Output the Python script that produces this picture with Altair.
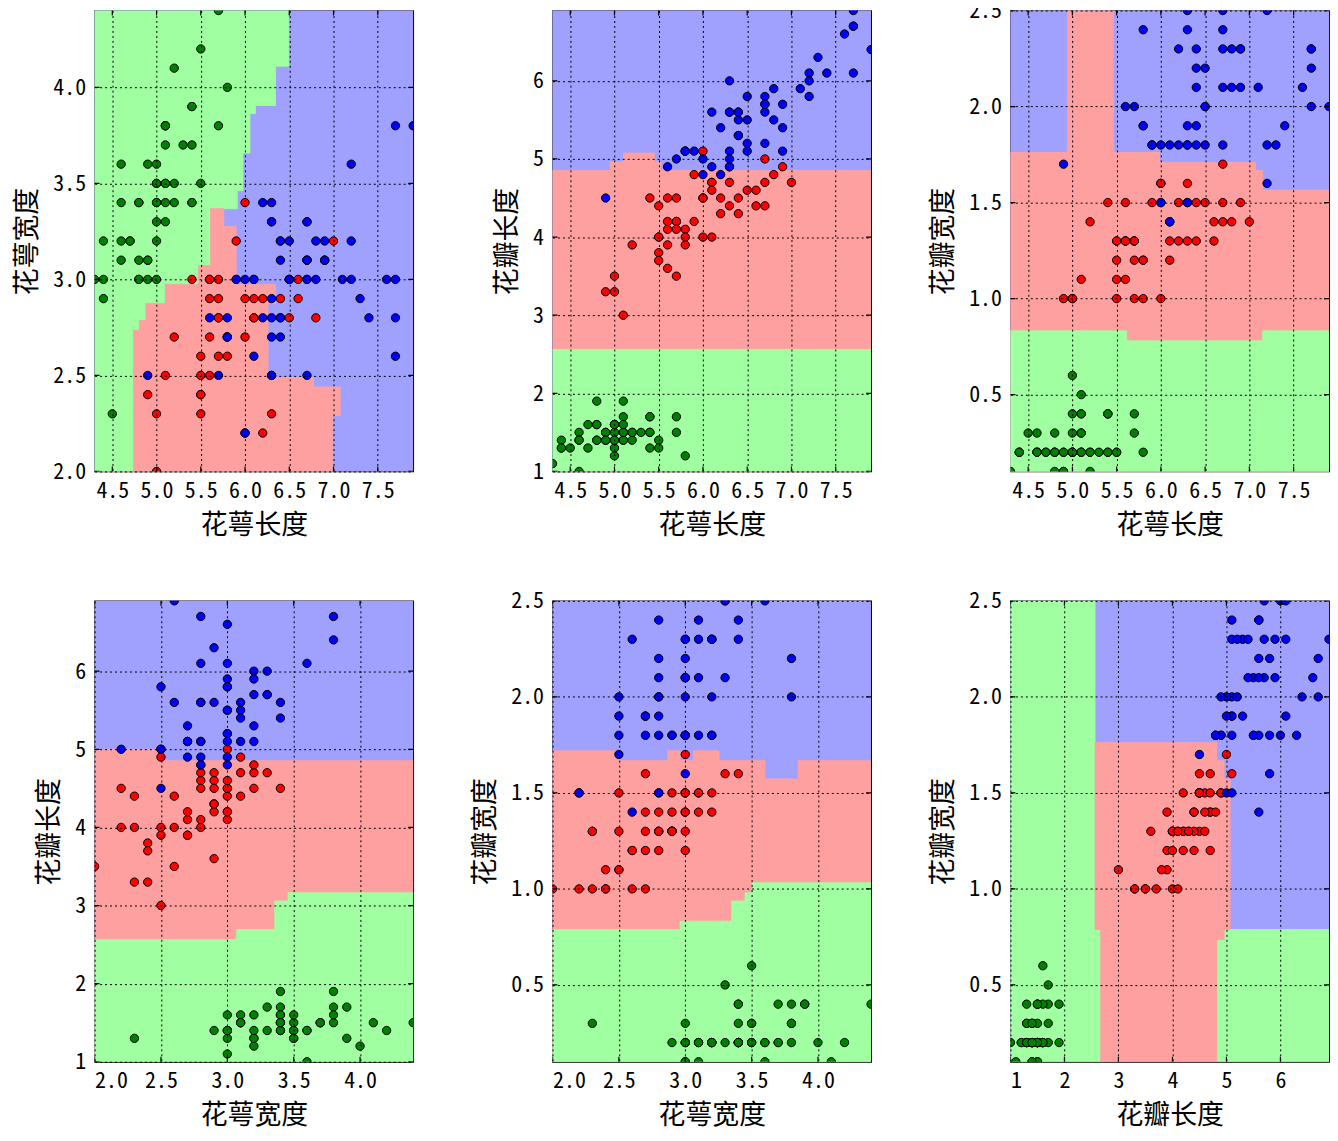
import altair as alt
import pandas as pd

# ---- iris measurements (sepal length, sepal width, petal length, petal width) ----
sepal_length = [
    5.1, 4.9, 4.7, 4.6, 5.0, 5.4, 4.6, 5.0, 4.4, 4.9, 5.4, 4.8, 4.8, 4.3, 5.8, 5.7, 5.4, 5.1, 5.7, 5.1,
    5.4, 5.1, 4.6, 5.1, 4.8, 5.0, 5.0, 5.2, 5.2, 4.7, 4.8, 5.4, 5.2, 5.5, 4.9, 5.0, 5.5, 4.9, 4.4, 5.1,
    5.0, 4.5, 4.4, 5.0, 5.1, 4.8, 5.1, 4.6, 5.3, 5.0,
    7.0, 6.4, 6.9, 5.5, 6.5, 5.7, 6.3, 4.9, 6.6, 5.2, 5.0, 5.9, 6.0, 6.1, 5.6, 6.7, 5.6, 5.8, 6.2, 5.6,
    5.9, 6.1, 6.3, 6.1, 6.4, 6.6, 6.8, 6.7, 6.0, 5.7, 5.5, 5.5, 5.8, 6.0, 5.4, 6.0, 6.7, 6.3, 5.6, 5.5,
    5.5, 6.1, 5.8, 5.0, 5.6, 5.7, 5.7, 6.2, 5.1, 5.7,
    6.3, 5.8, 7.1, 6.3, 6.5, 7.6, 4.9, 7.3, 6.7, 7.2, 6.5, 6.4, 6.8, 5.7, 5.8, 6.4, 6.5, 7.7, 7.7, 6.0,
    6.9, 5.6, 7.7, 6.3, 6.7, 7.2, 6.2, 6.1, 6.4, 7.2, 7.4, 7.9, 6.4, 6.3, 6.1, 7.7, 6.3, 6.4, 6.0, 6.9,
    6.7, 6.9, 5.8, 6.8, 6.7, 6.7, 6.3, 6.5, 6.2, 5.9,
]
sepal_width = [
    3.5, 3.0, 3.2, 3.1, 3.6, 3.9, 3.4, 3.4, 2.9, 3.1, 3.7, 3.4, 3.0, 3.0, 4.0, 4.4, 3.9, 3.5, 3.8, 3.8,
    3.4, 3.7, 3.6, 3.3, 3.4, 3.0, 3.4, 3.5, 3.4, 3.2, 3.1, 3.4, 4.1, 4.2, 3.1, 3.2, 3.5, 3.6, 3.0, 3.4,
    3.5, 2.3, 3.2, 3.5, 3.8, 3.0, 3.8, 3.2, 3.7, 3.3,
    3.2, 3.2, 3.1, 2.3, 2.8, 2.8, 3.3, 2.4, 2.9, 2.7, 2.0, 3.0, 2.2, 2.9, 2.9, 3.1, 3.0, 2.7, 2.2, 2.5,
    3.2, 2.8, 2.5, 2.8, 2.9, 3.0, 2.8, 3.0, 2.9, 2.6, 2.4, 2.4, 2.7, 2.7, 3.0, 3.4, 3.1, 2.3, 3.0, 2.5,
    2.6, 3.0, 2.6, 2.3, 2.7, 3.0, 2.9, 2.9, 2.5, 2.8,
    3.3, 2.7, 3.0, 2.9, 3.0, 3.0, 2.5, 2.9, 2.5, 3.6, 3.2, 2.7, 3.0, 2.5, 2.8, 3.2, 3.0, 3.8, 2.6, 2.2,
    3.2, 2.8, 2.8, 2.7, 3.3, 3.2, 2.8, 3.0, 2.8, 3.0, 2.8, 3.8, 2.8, 2.8, 2.6, 3.0, 3.4, 3.1, 3.0, 3.1,
    3.1, 3.1, 2.7, 3.2, 3.3, 3.0, 2.5, 3.0, 3.4, 3.0,
]
petal_length = [
    1.4, 1.4, 1.3, 1.5, 1.4, 1.7, 1.4, 1.5, 1.4, 1.5, 1.5, 1.6, 1.4, 1.1, 1.2, 1.5, 1.3, 1.4, 1.7, 1.5,
    1.7, 1.5, 1.0, 1.7, 1.9, 1.6, 1.6, 1.5, 1.4, 1.6, 1.6, 1.5, 1.5, 1.4, 1.5, 1.2, 1.3, 1.4, 1.3, 1.5,
    1.3, 1.3, 1.3, 1.6, 1.9, 1.4, 1.6, 1.4, 1.5, 1.4,
    4.7, 4.5, 4.9, 4.0, 4.6, 4.5, 4.7, 3.3, 4.6, 3.9, 3.5, 4.2, 4.0, 4.7, 3.6, 4.4, 4.5, 4.1, 4.5, 3.9,
    4.8, 4.0, 4.9, 4.7, 4.3, 4.4, 4.8, 5.0, 4.5, 3.5, 3.8, 3.7, 3.9, 5.1, 4.5, 4.5, 4.7, 4.4, 4.1, 4.0,
    4.4, 4.6, 4.0, 3.3, 4.2, 4.2, 4.2, 4.3, 3.0, 4.1,
    6.0, 5.1, 5.9, 5.6, 5.8, 6.6, 4.5, 6.3, 5.8, 6.1, 5.1, 5.3, 5.5, 5.0, 5.1, 5.3, 5.5, 6.7, 6.9, 5.0,
    5.7, 4.9, 6.7, 4.9, 5.7, 6.0, 4.8, 4.9, 5.6, 5.8, 6.1, 6.4, 5.6, 5.1, 5.6, 6.1, 5.6, 5.5, 4.8, 5.4,
    5.6, 5.1, 5.1, 5.9, 5.7, 5.2, 5.0, 5.2, 5.4, 5.1,
]
petal_width = [
    0.2, 0.2, 0.2, 0.2, 0.2, 0.4, 0.3, 0.2, 0.2, 0.1, 0.2, 0.2, 0.1, 0.1, 0.2, 0.4, 0.4, 0.3, 0.3, 0.3,
    0.2, 0.4, 0.2, 0.5, 0.2, 0.2, 0.4, 0.2, 0.2, 0.2, 0.2, 0.4, 0.1, 0.2, 0.2, 0.2, 0.2, 0.1, 0.2, 0.2,
    0.3, 0.3, 0.2, 0.6, 0.4, 0.3, 0.2, 0.2, 0.2, 0.2,
    1.4, 1.5, 1.5, 1.3, 1.5, 1.3, 1.6, 1.0, 1.3, 1.4, 1.0, 1.5, 1.0, 1.4, 1.3, 1.4, 1.5, 1.0, 1.5, 1.1,
    1.8, 1.3, 1.5, 1.2, 1.3, 1.4, 1.4, 1.7, 1.5, 1.0, 1.1, 1.0, 1.2, 1.6, 1.5, 1.6, 1.5, 1.3, 1.3, 1.3,
    1.2, 1.4, 1.2, 1.0, 1.3, 1.2, 1.3, 1.3, 1.1, 1.3,
    2.5, 1.9, 2.1, 1.8, 2.2, 2.1, 1.7, 1.8, 1.8, 2.5, 2.0, 1.9, 2.1, 2.0, 2.4, 2.3, 1.8, 2.2, 2.3, 1.5,
    2.3, 2.0, 2.0, 1.8, 2.1, 1.8, 1.8, 1.8, 2.1, 1.6, 1.9, 2.0, 2.2, 1.5, 1.4, 2.3, 2.4, 1.8, 1.8, 2.1,
    2.4, 2.3, 1.9, 2.3, 2.5, 2.3, 1.9, 2.0, 2.3, 1.8,
]
species = ["setosa"] * 50 + ["versicolor"] * 50 + ["virginica"] * 50

feature_names = ["花萼长度", "花萼宽度", "花瓣长度", "花瓣宽度"]
feature_domains = [[4.3, 7.9], [2.0, 4.4], [1.0, 6.9], [0.1, 2.5]]
feature_ticks = [
    [4.5, 5.0, 5.5, 6.0, 6.5, 7.0, 7.5],
    [2.0, 2.5, 3.0, 3.5, 4.0],
    [1, 2, 3, 4, 5, 6],
    [0.5, 1.0, 1.5, 2.0, 2.5],
]
feature_formats = [".1f", ".1f", "d", ".1f"]

pairs = [(0, 1), (0, 2), (0, 3), (1, 2), (1, 3), (2, 3)]

# ---- decision regions: (class, x1, x2, y1, y2) ----
regions_01 = [
    ("virginica", 4.3, 7.9, 2.0, 4.4),
    ("setosa", 4.3, 6.494, 4.11, 4.4),
    ("setosa", 4.3, 6.344, 3.906, 4.11),
    ("setosa", 4.3, 6.119, 3.863, 3.906),
    ("setosa", 4.3, 6.055, 3.658, 3.863),
    ("setosa", 4.3, 5.976, 3.462, 3.658),
    ("setosa", 4.3, 5.912, 3.368, 3.462),
    ("setosa", 4.3, 5.61, 3.072, 3.368),
    ("setosa", 4.3, 5.474, 2.974, 3.072),
    ("setosa", 4.3, 5.099, 2.875, 2.974),
    ("setosa", 4.3, 4.88, 2.786, 2.875),
    ("setosa", 4.3, 4.806, 2.735, 2.786),
    ("setosa", 4.3, 4.739, 2.0, 2.735),
    ("versicolor", 5.61, 5.76, 3.275, 3.368),
    ("versicolor", 5.61, 5.90, 3.072, 3.275),
    ("versicolor", 5.474, 5.90, 2.974, 3.072),
    ("versicolor", 5.099, 6.344, 2.875, 2.974),
    ("versicolor", 4.88, 6.26, 2.786, 2.875),
    ("versicolor", 4.806, 6.26, 2.735, 2.786),
    ("versicolor", 4.739, 6.26, 2.49, 2.735),
    ("versicolor", 4.739, 6.775, 2.44, 2.49),
    ("versicolor", 4.739, 7.075, 2.29, 2.44),
    ("versicolor", 4.739, 6.99, 2.0, 2.29),
]
regions_02 = [
    ("virginica", 4.3, 7.9, 1.0, 6.9),
    ("versicolor", 4.3, 7.9, 2.563, 4.854),
    ("versicolor", 4.952, 5.102, 4.854, 4.963),
    ("versicolor", 5.102, 5.451, 4.854, 5.076),
    ("versicolor", 5.451, 5.526, 4.854, 4.963),
    ("setosa", 4.3, 7.9, 1.0, 2.563),
]
regions_03 = [
    ("virginica", 4.3, 7.9, 0.1, 2.5),
    ("versicolor", 4.3, 4.945, 0.1, 1.762),
    ("versicolor", 4.945, 5.462, 0.1, 2.5),
    ("versicolor", 5.462, 5.987, 0.1, 1.762),
    ("versicolor", 5.987, 7.071, 0.1, 1.710),
    ("versicolor", 7.071, 7.15, 0.1, 1.668),
    ("versicolor", 7.15, 7.9, 0.1, 1.565),
    ("setosa", 4.3, 5.613, 0.1, 0.832),
    ("setosa", 5.613, 7.15, 0.1, 0.78),
    ("setosa", 7.15, 7.9, 0.1, 0.832),
]
regions_12 = [
    ("virginica", 2.0, 4.4, 1.0, 6.9),
    ("versicolor", 2.0, 2.507, 1.0, 5.0),
    ("versicolor", 2.507, 4.4, 1.0, 4.854),
    ("setosa", 2.0, 3.07, 1.0, 2.563),
    ("setosa", 3.07, 3.357, 1.0, 2.693),
    ("setosa", 3.357, 3.457, 1.0, 3.059),
    ("setosa", 3.457, 4.4, 1.0, 3.164),
]
regions_13 = [
    ("virginica", 2.0, 4.4, 0.1, 2.5),
    ("versicolor", 2.0, 2.505, 0.1, 1.719),
    ("versicolor", 2.505, 2.868, 0.1, 1.668),
    ("versicolor", 2.868, 2.962, 0.1, 1.719),
    ("versicolor", 2.962, 3.06, 0.1, 1.668),
    ("versicolor", 3.06, 3.255, 0.1, 1.719),
    ("versicolor", 3.255, 3.6, 0.1, 1.668),
    ("versicolor", 3.6, 3.85, 0.1, 1.573),
    ("versicolor", 3.85, 4.4, 0.1, 1.668),
    ("setosa", 2.0, 2.962, 0.1, 0.789),
    ("setosa", 2.962, 3.35, 0.1, 0.832),
    ("setosa", 3.35, 3.45, 0.1, 0.937),
    ("setosa", 3.45, 3.505, 0.1, 0.98),
    ("setosa", 3.505, 4.4, 0.1, 1.032),
]
regions_23 = [
    ("virginica", 1.0, 6.9, 0.1, 2.5),
    ("setosa", 1.0, 2.567, 0.1, 2.5),
    ("setosa", 2.567, 2.672, 0.1, 0.789),
    ("setosa", 4.958, 6.9, 0.1, 0.789),
    ("setosa", 4.822, 4.958, 0.1, 0.736),
    ("versicolor", 2.567, 4.822, 0.789, 1.762),
    ("versicolor", 2.672, 4.822, 0.1, 0.789),
    ("versicolor", 4.822, 4.958, 0.736, 1.668),
    ("versicolor", 4.958, 5.069, 0.789, 1.573),
]
regions = [regions_01, regions_02, regions_03, regions_12, regions_13, regions_23]

classes = ["setosa", "versicolor", "virginica"]
region_colors = ["#A0FFA0", "#FFA0A0", "#A0A0FF"]
point_colors = ["#008000", "#FF0000", "#0000FF"]

features = [sepal_length, sepal_width, petal_length, petal_width]

PANEL_W = 320
PANEL_H = 463


def make_axis(f):
    return alt.Axis(
        values=feature_ticks[f],
        format=feature_formats[f],
        title=feature_names[f],
        grid=True,
        gridColor="black",
        gridDash=[2, 3],
        gridOpacity=1,
        gridWidth=1,
        domain=False,
        ticks=True,
        tickSize=0,
        zindex=1,
    )


def panel(k, i, j):
    pts = pd.DataFrame({"x": features[i], "y": features[j], "cls": species})
    reg = pd.DataFrame(regions[k], columns=["cls", "x1", "x2", "y1", "y2"])
    reg["order"] = range(len(reg))
    xt = pd.DataFrame({"v": feature_ticks[i]})
    yt = pd.DataFrame({"v": feature_ticks[j]})
    xs = alt.Scale(domain=feature_domains[i], nice=False, zero=False)
    ys = alt.Scale(domain=feature_domains[j], nice=False, zero=False)
    rscale = alt.Scale(domain=classes, range=region_colors)
    rects = alt.Chart(reg).mark_rect(clip=True, strokeWidth=0.8).encode(
        x=alt.X("x1:Q", scale=xs, axis=make_axis(i)),
        x2="x2:Q",
        y=alt.Y("y1:Q", scale=ys, axis=make_axis(j)),
        y2="y2:Q",
        fill=alt.Fill("cls:N", scale=rscale, legend=None),
        stroke=alt.Stroke("cls:N", scale=rscale, legend=None),
        order="order:Q",
    )
    dots = alt.Chart(pts).mark_circle(
        clip=True, size=70, opacity=1, stroke="black", strokeWidth=1
    ).encode(
        x=alt.X("x:Q", scale=xs, title=feature_names[i]),
        y=alt.Y("y:Q", scale=ys, title=feature_names[j]),
        fill=alt.Fill("cls:N", scale=alt.Scale(domain=classes, range=point_colors), legend=None),
    )
    # inward tick marks on all four sides of the frame
    tick_layers = []
    for ypix in (0, PANEL_H):
        tick_layers.append(
            alt.Chart(xt).mark_tick(clip=True, color="black", size=10, thickness=1.2, opacity=1).encode(
                x=alt.X("v:Q", scale=xs, title=feature_names[i]), y=alt.value(ypix)
            )
        )
    for xpix in (0, PANEL_W):
        tick_layers.append(
            alt.Chart(yt).mark_tick(clip=True, color="black", size=10, thickness=1.2, opacity=1).encode(
                y=alt.Y("v:Q", scale=ys, title=feature_names[j]), x=alt.value(xpix)
            )
        )
    return (
        alt.layer(rects, dots, *tick_layers)
        .resolve_scale(fill="independent", stroke="independent")
        .properties(width=PANEL_W, height=PANEL_H)
    )


panels = [panel(k, i, j) for k, (i, j) in enumerate(pairs)]

chart = (
    alt.concat(*panels, columns=3, spacing={"row": 130, "column": 140}, bounds="flush")
    .properties(padding={"left": 5, "top": -12, "right": 0, "bottom": 0})
    .configure_view(stroke="black", strokeWidth=1.2)
    .configure_axis(
        labelFont="Noto Sans Mono CJK SC, DejaVu Sans Mono",
        labelFontSize=22,
        labelColor="black",
        labelPadding=9,
        titleFont="Noto Sans CJK SC",
        titleFontSize=27,
        titleFontWeight="normal",
        titleColor="black",
        titlePadding=11,
    )
)

chart.save("out.html", embed_options={"renderer": "svg", "actions": False})
